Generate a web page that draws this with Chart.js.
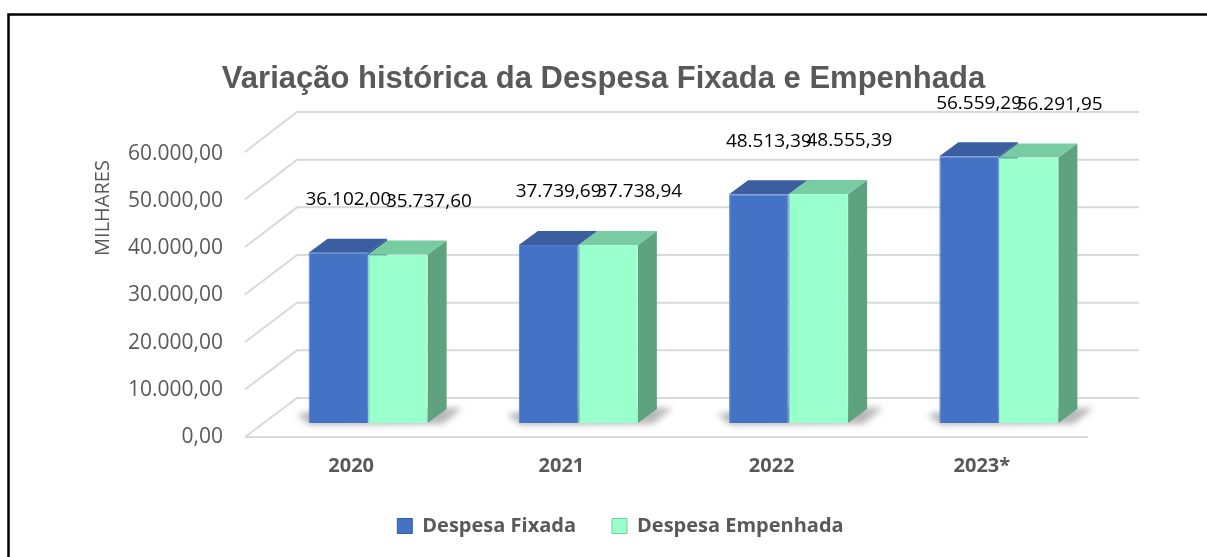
<!DOCTYPE html>
<html>
<head>
<meta charset="utf-8">
<script src="https://cdn.jsdelivr.net/npm/chart.js@4.4.1/dist/chart.umd.min.js"></script>
<style>
  html, body { margin: 0; padding: 0; background: #ffffff; }
  #wrap { position: relative; width: 1207px; height: 557px; }
</style>
</head>
<body>
<div id="wrap"><canvas id="c" width="1207" height="557"></canvas></div>
<script>
// ---- data ----
const categories = ['2020', '2021', '2022', '2023*'];
const despesaFixada = [36102.00, 37739.69, 48513.39, 56559.29];
const despesaEmpenhada = [35737.60, 37738.94, 48555.39, 56291.95];
const seriesNames = ['Despesa Fixada', 'Despesa Empenhada'];
const yMin = 0;
const yMax = 60000;
const yStep = 10000;
const titleText = 'Variação histórica da Despesa Fixada e Empenhada';
const yTitleText = 'MILHARES';

// ---- styles ----
const frontColors = ['#4472C4', '#99FFCC'];
const edgeColors = ['#4F7ED0', '#A8FFD6'];
const topColors = ['#3A5E9F', '#78CCA2'];
const sideColors = ['#2F528F', '#5FA27F'];
const DX = 19, DY = 14;

function fmtBR(v) {
  const parts = Number(v).toFixed(2).split('.');
  return parts[0].replace(/\B(?=(\d{3})+(?!\d))/g, '.') + ',' + parts[1];
}

Chart.defaults.font.family = "'Open Sans', 'Liberation Sans', sans-serif";

const frame3d = {
  id: 'frame3d',
  beforeDraw(chart) {
    const ctx = chart.ctx;
    ctx.save();
    ctx.fillStyle = '#ffffff';
    ctx.fillRect(0, 0, chart.width, chart.height);
    ctx.strokeStyle = '#000000';
    ctx.lineWidth = 2.5;
    ctx.beginPath();
    ctx.moveTo(8.5, chart.height);
    ctx.lineTo(8.5, 14.5);
    ctx.lineTo(chart.width, 14.5);
    ctx.stroke();
    ctx.restore();
  },
  afterLayout(chart) {
    if (chart.legend) { chart.legend.left += 17; chart.legend.right += 17; }
  },
  beforeDatasetsDraw(chart) {
    const ctx = chart.ctx;
    const y = chart.scales.y;
    const area = chart.chartArea;
    const base = y.getPixelForValue(0);
    const span = base - y.getPixelForValue(yMax);
    const xFL = area.left - 18, xBL = area.left + 34, xBR = area.right + 35, xFR = area.right - 16;
    ctx.save();
    ctx.strokeStyle = '#D9D9D9';
    ctx.lineWidth = 2;
    for (let v = yMin; v <= yMax; v += yStep) {
      const p = y.getPixelForValue(v);
      const h = base - p;
      const fy = base + 14 - h * 285 / span;
      const by = base - 25 - h * 286 / span;
      ctx.beginPath();
      ctx.moveTo(xFL, fy);
      ctx.lineTo(xBL, by);
      ctx.lineTo(xBR, by);
      ctx.stroke();
      if (v === yMin) {
        ctx.beginPath();
        ctx.moveTo(xFL, fy);
        ctx.lineTo(xFR, fy);
        ctx.stroke();
      }
    }
    ctx.restore();

    // soft floor shadows
    ctx.save();
    ctx.filter = 'blur(3px)';
    ctx.fillStyle = 'rgba(0,0,0,0.28)';
    const m0 = chart.getDatasetMeta(0), m1 = chart.getDatasetMeta(1);
    for (let i = 0; i < categories.length; i++) {
      const b0 = m0.data[i], b1 = m1.data[i];
      const L = b0.x - b0.width / 2;
      const R = b1.x + b1.width / 2;
      const bs = b0.base;
      ctx.beginPath();
      ctx.moveTo(L - 12, bs - 8);
      ctx.lineTo(L + 20, bs - DY - 2);
      ctx.lineTo(R + DX + 16, bs - DY - 1);
      ctx.lineTo(R + DX - 4, bs + 1);
      ctx.lineTo(L + 2, bs + 2);
      ctx.closePath();
      ctx.fill();
    }
    ctx.restore();

    // side & top faces
    ctx.save();
    for (let i = 0; i < categories.length; i++) {
      for (let d = 0; d < 2; d++) {
        const b = chart.getDatasetMeta(d).data[i];
        const L = b.x - b.width / 2, R = b.x + b.width / 2, T = b.y, B = b.base;
        ctx.fillStyle = sideColors[d];
        ctx.beginPath();
        ctx.moveTo(R, T); ctx.lineTo(R + DX, T - DY); ctx.lineTo(R + DX, B - DY); ctx.lineTo(R, B);
        ctx.closePath(); ctx.fill();
        ctx.fillStyle = topColors[d];
        ctx.beginPath();
        ctx.moveTo(L, T); ctx.lineTo(L + DX, T - DY); ctx.lineTo(R + DX, T - DY); ctx.lineTo(R, T);
        ctx.closePath(); ctx.fill();
      }
    }
    ctx.restore();
  },
  afterDatasetsDraw(chart) {
    const ctx = chart.ctx;
    ctx.save();
    ctx.font = "19px 'Open Sans'";
    ctx.fillStyle = '#000000';
    ctx.textAlign = 'center';
    ctx.textBaseline = 'middle';
    const offs = [10, 31];
    for (let d = 0; d < 2; d++) {
      const meta = chart.getDatasetMeta(d);
      const vals = chart.data.datasets[d].data;
      meta.data.forEach((b, i) => {
        ctx.fillText(fmtBR(vals[i]), b.x + offs[d], b.y - 53);
      });
    }
    // y axis title
    ctx.font = "20px 'Open Sans'";
    ctx.fillStyle = '#595959';
    ctx.translate(103, 208);
    ctx.rotate(-Math.PI / 2);
    ctx.fillText(yTitleText, 0, 0);
    ctx.restore();
  }
};

new Chart(document.getElementById('c'), {
  type: 'bar',
  data: {
    labels: categories,
    datasets: [
      { label: seriesNames[0], data: despesaFixada, backgroundColor: frontColors[0],
        borderColor: edgeColors[0], borderWidth: 1, borderSkipped: 'bottom',
        categoryPercentage: 0.566, barPercentage: 1.0 },
      { label: seriesNames[1], data: despesaEmpenhada, backgroundColor: frontColors[1],
        borderColor: edgeColors[1], borderWidth: 1, borderSkipped: 'bottom',
        categoryPercentage: 0.566, barPercentage: 1.0 }
    ]
  },
  options: {
    responsive: false,
    animation: false,
    layout: { padding: { top: 20, bottom: 11, left: 0, right: 0 } },
    plugins: {
      title: {
        display: true, text: titleText, color: '#595959',
        font: { family: "'Liberation Sans', Arial, sans-serif", size: 31, weight: 'bold' },
        padding: { top: 40.4, bottom: 42.4 }
      },
      legend: {
        position: 'bottom',
        labels: {
          boxWidth: 15, boxHeight: 15, padding: 36, color: '#595959',
          font: { size: 20, weight: 'bold' },
          generateLabels(chart) {
            return chart.data.datasets.map((ds, i) => ({
              text: ds.label, fillStyle: frontColors[i], strokeStyle: topColors[i],
              lineWidth: 1, hidden: false, datasetIndex: i, fontColor: '#595959'
            }));
          }
        }
      },
      tooltip: { enabled: false }
    },
    scales: {
      x: {
        grid: { display: false, drawTicks: false },
        border: { display: false },
        ticks: { color: '#595959', font: { size: 20, weight: 'bold' }, padding: 31, labelOffset: -17 },
        afterFit(s) { s.height = 57; }
      },
      y: {
        min: yMin, max: yMax,
        grid: { display: false, drawTicks: false },
        border: { display: false },
        ticks: { stepSize: yStep, color: '#595959', font: { size: 21 }, padding: 40, labelOffset: 14,
                 callback: (v) => fmtBR(v) },
        afterFit(s) { s.width = 263; }
      },
      y2: {
        position: 'right',
        grid: { display: false, drawTicks: false },
        border: { display: false },
        ticks: { display: false },
        afterFit(s) { s.width = 103; }
      }
    }
  },
  plugins: [frame3d]
});
</script>
</body>
</html>
